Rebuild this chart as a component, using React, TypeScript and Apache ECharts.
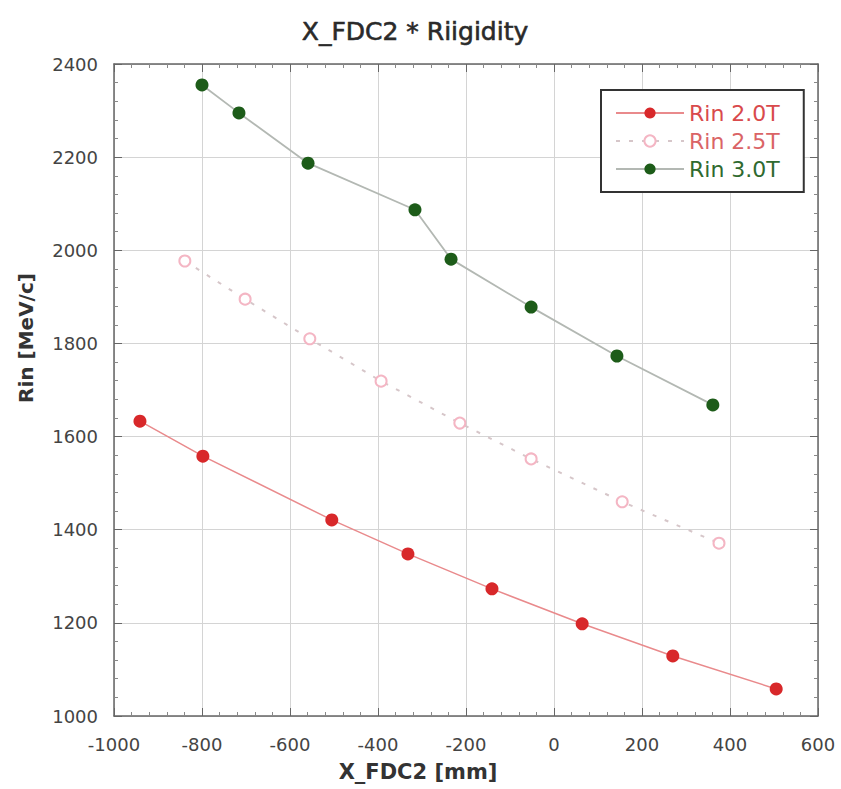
import React, { useEffect, useRef } from "react";
import * as echarts from "echarts";

// X_FDC2 position [mm] and inbound rigidity Rin [MeV/c] for each field setting
const xFdc2At20T = [-941, -798, -505, -332, -141, 64, 270, 505];
const rinAt20T = [1633, 1558, 1421, 1348, 1273, 1198, 1129, 1058];

const xFdc2At25T = [-839, -702, -555, -393, -214, -52, 155, 375];
const rinAt25T = [1977, 1895, 1810, 1719, 1629, 1552, 1460, 1371];

const xFdc2At30T = [-800, -716, -559, -316, -234, -52, 143, 361];
const rinAt30T = [2355, 2295, 2187, 2087, 1981, 1878, 1773, 1668];

const seriesNames = ["Rin 2.0T", "Rin 2.5T", "Rin 3.0T"];

const X_MIN = -1000;
const X_MAX = 600;
const X_STEP = 200;
const Y_MIN = 1000;
const Y_MAX = 2400;
const Y_STEP = 200;

const FONT = "'DejaVu Sans', Verdana, sans-serif";

const zip = (xs: number[], ys: number[]) => xs.map((x, i) => [x, ys[i]]);

export default function App() {
  const ref = useRef<HTMLDivElement>(null);

  useEffect(() => {
    if (!ref.current) return;
    const chart = echarts.init(ref.current, null, { renderer: "svg" });

    const axisLine = { show: true, onZero: false, lineStyle: { color: "#666", width: 1.5 } };
    const tick = { show: true, inside: true, length: 8, lineStyle: { color: "#666" } };
    const minorTick = { show: true, splitNumber: 5, length: 4, lineStyle: { color: "#888" } };
    const label = {
      color: "#444",
      fontSize: 18,
      fontFamily: FONT,
      formatter: (v: number) => String(v),
    };

    chart.setOption({
      animation: false,
      backgroundColor: "#fff",
      title: {
        text: "X_FDC2 * Riigidity",
        left: 410,
        top: 14,
        textAlign: "center",
        textStyle: {
          color: "#2a2a2a",
          fontSize: 25,
          fontWeight: "normal",
          fontFamily: FONT,
          textBorderColor: "#2a2a2a",
          textBorderWidth: 0.6,
        },
      },
      grid: { left: 114, right: 23, top: 64, bottom: 73, containLabel: false },
      legend: {
        left: 601,
        top: 90,
        orient: "vertical",
        padding: [12, 24, 12, 14],
        itemGap: 6,
        itemWidth: 68,
        itemHeight: 14,
        borderColor: "#333",
        borderWidth: 2,
        backgroundColor: "#fff",
        textStyle: { fontSize: 22, fontFamily: FONT },
        data: [
          { name: seriesNames[0], textStyle: { color: "#d94a4c" } },
          { name: seriesNames[1], textStyle: { color: "#da6466" } },
          { name: seriesNames[2], textStyle: { color: "#2f6a2f" } },
        ],
      },
      xAxis: [
        {
          type: "value",
          min: X_MIN,
          max: X_MAX,
          interval: X_STEP,
          axisLine,
          axisTick: tick,
          minorTick,
          axisLabel: { ...label, margin: 19 },
          splitLine: { show: true, lineStyle: { color: "#d4d4d4", width: 1 } },
        },
        {
          type: "value",
          position: "top",
          min: X_MIN,
          max: X_MAX,
          interval: X_STEP,
          axisLine,
          axisTick: tick,
          minorTick,
          axisLabel: { show: false },
          splitLine: { show: false },
        },
      ],
      yAxis: [
        {
          type: "value",
          min: Y_MIN,
          max: Y_MAX,
          interval: Y_STEP,
          axisLine,
          axisTick: tick,
          minorTick,
          axisLabel: { ...label, margin: 16 },
          splitLine: { show: true, lineStyle: { color: "#d4d4d4", width: 1 } },
        },
        {
          type: "value",
          position: "right",
          min: Y_MIN,
          max: Y_MAX,
          interval: Y_STEP,
          axisLine,
          axisTick: tick,
          minorTick,
          axisLabel: { show: false },
          splitLine: { show: false },
        },
      ],
      graphic: [
        {
          type: "text",
          x: 26,
          y: 338,
          rotation: Math.PI / 2,
          style: {
            text: "Rin [MeV/c]",
            fill: "#333",
            font: `bold 20px ${FONT}`,
            align: "center",
            verticalAlign: "middle",
          },
        },
        {
          type: "text",
          x: 418,
          y: 772,
          style: {
            text: "X_FDC2 [mm]",
            fill: "#333",
            font: `bold 21px ${FONT}`,
            align: "center",
            verticalAlign: "middle",
          },
        },
      ],
      series: [
        {
          name: seriesNames[0],
          type: "line",
          xAxisIndex: 0,
          yAxisIndex: 0,
          data: zip(xFdc2At20T, rinAt20T),
          symbol: "circle",
          symbolSize: 13,
          itemStyle: { color: "#d8282a" },
          lineStyle: { color: "#e98a8c", width: 1.5 },
          z: 3,
        },
        {
          name: seriesNames[1],
          type: "line",
          xAxisIndex: 0,
          yAxisIndex: 0,
          data: zip(xFdc2At25T, rinAt25T),
          symbol: "emptyCircle",
          symbolSize: 11,
          itemStyle: { color: "#f4b6c4", borderWidth: 1.5 },
          lineStyle: { color: "#d6c6c9", width: 2, type: [4, 9] },
          z: 2,
        },
        {
          name: seriesNames[2],
          type: "line",
          xAxisIndex: 0,
          yAxisIndex: 0,
          data: zip(xFdc2At30T, rinAt30T),
          symbol: "circle",
          symbolSize: 13,
          itemStyle: { color: "#1d5c19" },
          lineStyle: { color: "#b3b8b3", width: 1.8 },
          z: 3,
        },
      ],
    });

    return () => chart.dispose();
  }, []);

  return (
    <div
      ref={ref}
      style={{ position: "fixed", left: 0, top: 0, width: 841, height: 789, background: "#fff" }}
    />
  );
}
